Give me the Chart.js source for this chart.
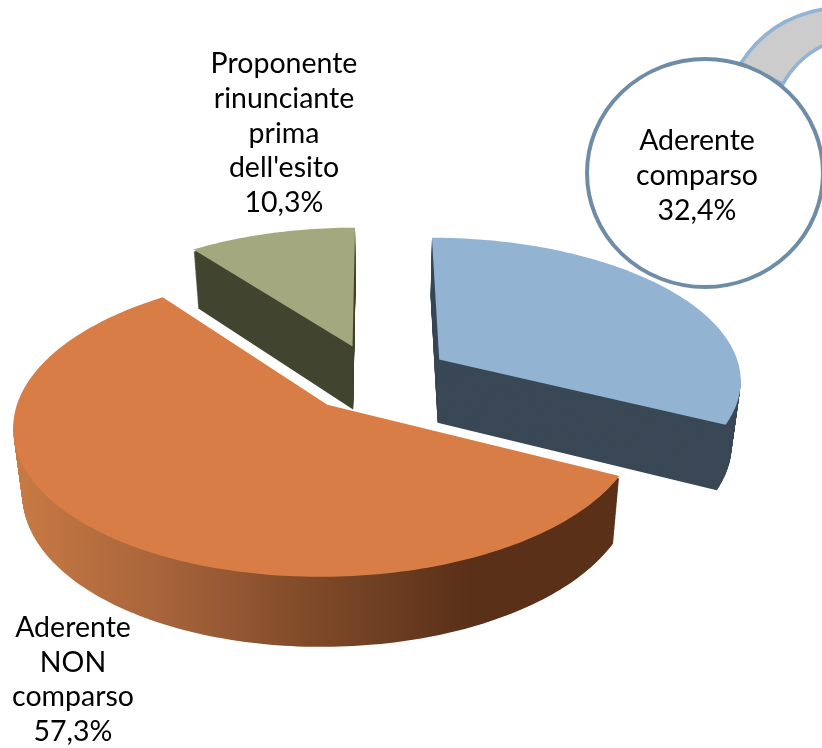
<!DOCTYPE html>
<html lang="it">
<head>
<meta charset="utf-8">
<title>Esito</title>
<script src="https://cdn.jsdelivr.net/npm/chart.js@4/dist/chart.umd.min.js"></script>
<style>
  html, body { margin: 0; padding: 0; background: #FFFFFF; }
  canvas { display: block; }
</style>
</head>
<body>
<canvas id="pie" width="822" height="748"></canvas>
<script>
const categories = ['Aderente comparso', 'Aderente NON comparso', "Proponente rinunciante prima dell'esito"];
const values = [32.4, 57.3, 10.3];

const labelLines = [
  ['Aderente', 'comparso'],
  ['Aderente', 'NON', 'comparso'],
  ['Proponente', 'rinunciante', 'prima', "dell'esito"]
];

const topColors = ['#93B3D3', '#D97D46', '#A3A87F'];
const sideColors = ['#3A4856', '#5A3019', '#424530'];

// view of the tilted pie plane
const VIEW = { cx: 375, cy: 378, ax: 303, ay: 142, k: 0.13, depth: 64, shrink: 0.025 };

function project(u, v, z) {
  const w = 1 - VIEW.k * v;
  let x = VIEW.cx + VIEW.ax * u / w;
  let y = VIEW.cy + VIEW.ay * v / w;
  x = VIEW.cx + (x - VIEW.cx) * (1 - VIEW.shrink * z);
  y += VIEW.depth * (1 + 0.08 * v) * z;
  return [x, y];
}

// outline of one slice on the unit plane, tip first
function sliceOutline(arc) {
  const p = arc.getProps(['startAngle', 'endAngle', 'outerRadius'], true);
  const mid = (p.startAngle + p.endAngle) / 2;
  const d = (arc.options.offset / 4) / p.outerRadius;
  const ox = Math.cos(mid) * d;
  const oy = Math.sin(mid) * d;
  const pts = [[ox, oy]];
  const steps = Math.ceil((p.endAngle - p.startAngle) / 0.02);
  for (let i = 0; i <= steps; i++) {
    const a = p.startAngle + (p.endAngle - p.startAngle) * i / steps;
    pts.push([ox + Math.cos(a), oy + Math.sin(a)]);
  }
  return pts;
}

function fillOutline(ctx, outline, z, fill) {
  ctx.beginPath();
  outline.forEach((q, i) => {
    const s = project(q[0], q[1], z);
    if (i) ctx.lineTo(s[0], s[1]); else ctx.moveTo(s[0], s[1]);
  });
  ctx.closePath();
  ctx.fillStyle = fill;
  ctx.fill();
}

const pie3d = {
  id: 'pie3d',
  beforeDatasetsDraw(chart) {
    const ctx = chart.ctx;
    const arcs = chart.getDatasetMeta(0).data;

    ctx.save();
    for (let i = arcs.length - 1; i >= 0; i--) {
      const outline = sliceOutline(arcs[i]);

      let side = sideColors[i];
      if (i === 1) {
        side = ctx.createLinearGradient(12, 0, 470, 0);
        side.addColorStop(0, '#C97B44');
        side.addColorStop(0.35, '#A5623A');
        side.addColorStop(0.65, '#7F4A28');
        side.addColorStop(1, sideColors[i]);
      }

      // stack of outlines makes the wall, stops short of the top to keep its edge clean
      for (let z = 1; z > 0.03; z -= 0.0125) {
        fillOutline(ctx, outline, z, side);
      }
      fillOutline(ctx, outline, 0, arcs[i].options.backgroundColor);
    }
    ctx.restore();
    return false;
  },
  afterDraw(chart) {
    const ctx = chart.ctx;
    ctx.save();

    // grey band behind the callout
    ctx.beginPath();
    ctx.moveTo(741, 63);
    ctx.quadraticCurveTo(770, 18, 824, 9);
    ctx.lineTo(824, 45);
    ctx.quadraticCurveTo(797, 58, 783, 84);
    ctx.closePath();
    ctx.fillStyle = '#CCCCCC';
    ctx.fill();
    ctx.strokeStyle = '#93B3D3';
    ctx.lineWidth = 3.5;
    ctx.stroke();

    // callout
    ctx.beginPath();
    ctx.ellipse(705, 173, 118, 114, 0, 0, Math.PI * 2);
    ctx.fillStyle = '#FFFFFF';
    ctx.fill();
    ctx.strokeStyle = '#6F8CA6';
    ctx.lineWidth = 4;
    ctx.stroke();

    // labels
    ctx.font = '28.5px Lato, sans-serif';
    ctx.fillStyle = '#000000';
    ctx.textAlign = 'center';
    ctx.textBaseline = 'alphabetic';
    const anchors = [[697, 150, 35], [73, 637, 34.7], [284, 73, 34.8]];
    labelLines.forEach((lines, i) => {
      const text = lines.concat(values[i].toFixed(1).replace('.', ',') + '%');
      text.forEach((line, j) => {
        ctx.fillText(line, anchors[i][0], anchors[i][1] + j * anchors[i][2]);
      });
    });
    ctx.restore();
  }
};

new Chart(document.getElementById('pie').getContext('2d'), {
  type: 'pie',
  data: {
    labels: categories,
    datasets: [{
      data: values,
      backgroundColor: topColors,
      borderWidth: 0,
      offset: [304, 288, 288]
    }]
  },
  options: {
    responsive: false,
    animation: false,
    radius: 300,
    plugins: {
      legend: { display: false },
      tooltip: { enabled: false }
    }
  },
  plugins: [pie3d]
});
</script>
</body>
</html>
